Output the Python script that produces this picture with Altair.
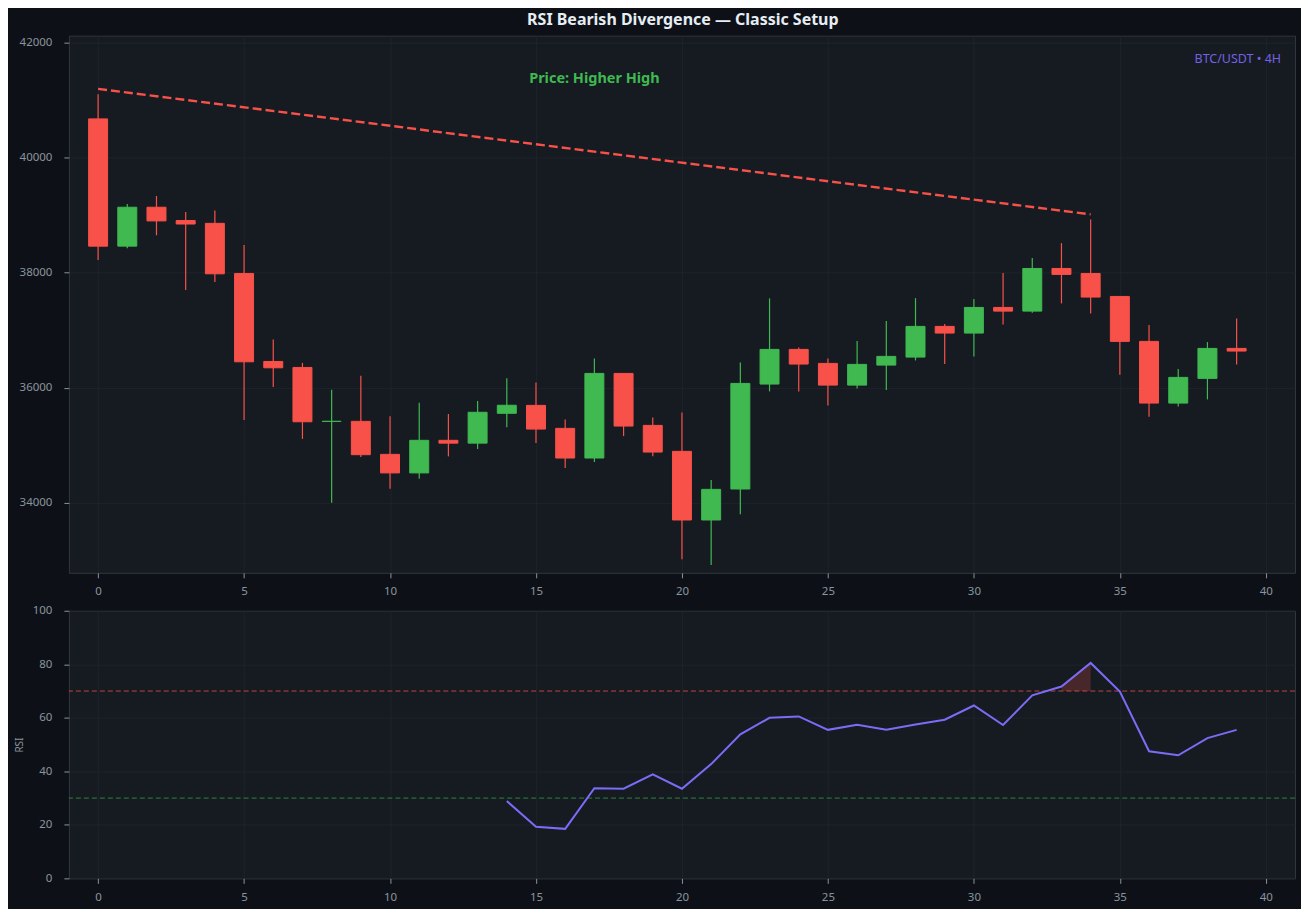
import altair as alt
import pandas as pd

# candle data
bars = list(range(40))
opens = [40677, 38463, 39140, 38909, 38860, 37988, 36457, 36353, 35415, 35415,
         34841, 34518, 35085, 35036, 35555, 35693, 35293, 34777, 36249, 35345,
         34893, 33699, 34238, 36064, 36667, 36423, 36046, 36394, 36533, 37067,
         36951, 37397, 37333, 38075, 37988, 37588, 36806, 35733, 36162, 36684]
closes = [38463, 39140, 38902, 38848, 37982, 36451, 36347, 35408, 35415, 34835,
          34518, 35085, 35036, 35573, 35695, 35281, 34777, 36249, 35333, 34881,
          33699, 34232, 36075, 36667, 36412, 36046, 36406, 36545, 37067, 36951,
          37397, 37333, 38075, 37971, 37577, 36806, 35733, 36180, 36684, 36638]
highs = [41104, 39195, 39335, 39055, 39085, 38482, 36841, 36433, 35963, 36207,
         35506, 35738, 35543, 35768, 36164, 36093, 35449, 36510, 36249, 35484,
         35571, 34394, 36441, 37554, 36701, 36510, 36812, 37160, 37559, 37107,
         37542, 37994, 38255, 38516, 38928, 37588, 37090, 36325, 36794, 37206]
lows = [38220, 38427, 38652, 37701, 37841, 35439, 36012, 35110, 34000, 34793,
        34244, 34415, 34805, 34933, 35311, 35038, 34603, 34707, 35159, 34806,
        33014, 32916, 33797, 35936, 35936, 35693, 35988, 35959, 36475, 36412,
        36545, 37101, 37304, 37467, 37293, 36226, 35495, 35675, 35797, 36406]

# RSI(14), starts at bar 14
rsi_bars = list(range(14, 40))
rsi_vals = [28.9, 19.3, 18.5, 33.7, 33.5, 38.9, 33.5, 42.7, 53.8, 60.0,
            60.5, 55.5, 57.4, 55.5, 57.5, 59.3, 64.6, 57.3, 68.4, 71.7,
            80.5, 69.8, 47.5, 46.0, 52.4, 55.5]
overbought = [70]
oversold = [30]

# divergence trend line across the two highs
div_x = [0, 34]
div_y = [41200, 39015]

RED = "#f85149"
GREEN = "#3fb950"
PURPLE = "#7b6cf6"
MUTED = "#8b949e"
GRID = "#21262d"
BG = "#0d1117"
PANEL = "#161b22"
FONT = "Noto Sans"

W = 1228

candles = pd.DataFrame({"i": bars, "open": opens, "close": closes,
                        "high": highs, "low": lows})
candles["dir"] = ["up" if c >= o else "down" for o, c in zip(opens, closes)]

rsi = pd.DataFrame({"i": rsi_bars, "rsi": rsi_vals})
over = rsi[rsi["rsi"] > overbought[0]].assign(base=overbought[0])
div = pd.DataFrame({"i": div_x, "price": div_y})

x_scale = alt.Scale(domain=[-1, 41], nice=False, zero=False, padding=0)
x_axis = alt.Axis(values=list(range(0, 41, 5)), title=None, labelPadding=8)
col = alt.Color("dir:N", scale=alt.Scale(domain=["up", "down"], range=[GREEN, RED]), legend=None)
stk = alt.Stroke("dir:N", scale=alt.Scale(domain=["up", "down"], range=[GREEN, RED]), legend=None)

y_price = alt.Y("low:Q", scale=alt.Scale(domain=[32780, 42125], nice=False, zero=False),
                axis=alt.Axis(values=[34000, 36000, 38000, 40000, 42000], format="d", title=None))

base = alt.Chart(candles).encode(x=alt.X("i:Q", scale=x_scale, axis=x_axis))
wicks = base.mark_rule(strokeWidth=1.2).encode(y=y_price, y2="high:Q", color=col)
bodies = base.mark_bar(size=19, strokeWidth=1).encode(
    y=alt.Y("open:Q"), y2="close:Q", color=col, stroke=stk)

div_line = alt.Chart(div).mark_line(color=RED, strokeWidth=2.4, strokeDash=[9, 4]).encode(
    x="i:Q", y="price:Q")

lbl = alt.Chart(pd.DataFrame({"i": [17], "price": [41370], "t": ["Price: Higher High"]})).mark_text(
    color=GREEN, fontSize=14.5, fontWeight="bold", font=FONT).encode(x="i:Q", y="price:Q", text="t:N")

pair = alt.Chart(pd.DataFrame({"t": ["BTC/USDT • 4H"]})).mark_text(
    color=PURPLE, fontSize=12.5, align="right", font=FONT, opacity=0.9).encode(
    x=alt.value(W - 14), y=alt.value(23), text="t:N")

top = alt.layer(wicks, bodies, div_line, lbl, pair).properties(width=W, height=538)

x_rsi = alt.X("i:Q", scale=x_scale, axis=x_axis)
y_scale_rsi = alt.Scale(domain=[0, 100], nice=False)
y_rsi = alt.Y("rsi:Q", scale=y_scale_rsi,
              axis=alt.Axis(values=[0, 20, 40, 60, 80, 100], title="RSI", titlePadding=8))

ob_rule = alt.Chart(pd.DataFrame({"lvl": overbought})).mark_rule(
    color=RED, strokeWidth=1, strokeDash=[5, 3], opacity=0.75).encode(
    y=alt.Y("lvl:Q", scale=y_scale_rsi))
os_rule = alt.Chart(pd.DataFrame({"lvl": oversold})).mark_rule(
    color=GREEN, strokeWidth=1, strokeDash=[5, 3], opacity=0.65).encode(
    y=alt.Y("lvl:Q", scale=y_scale_rsi))

fill = alt.Chart(over).mark_area(color=RED, opacity=0.22).encode(x=x_rsi, y=y_rsi, y2="base:Q")
rsi_line = alt.Chart(rsi).mark_line(color=PURPLE, strokeWidth=2).encode(x=x_rsi, y=y_rsi)

bottom = alt.layer(ob_rule, os_rule, fill, rsi_line).properties(width=W, height=268)

chart = alt.vconcat(top, bottom, spacing=38, bounds="flush").properties(
    title=alt.TitleParams("RSI Bearish Divergence — Classic Setup", fontSize=16, anchor="middle",
                          fontWeight="bold", color="#e6edf3", font=FONT, offset=7, dx=28),
    background=BG,
    padding={"left": 5, "top": 3, "right": 5, "bottom": 5},
).configure_view(
    fill=PANEL, stroke="#30363d", strokeWidth=1
).configure_axis(
    labelColor=MUTED, labelFont=FONT, labelFontSize=11.5, titleColor=MUTED, titleFont=FONT,
    titleFontSize=10, titleFontWeight="normal", tickColor=MUTED, tickSize=5,
    domain=False, gridColor=GRID, gridWidth=0.8, labelPadding=12
)

chart.save("out.html", embed_options={"renderer": "svg", "actions": False})
